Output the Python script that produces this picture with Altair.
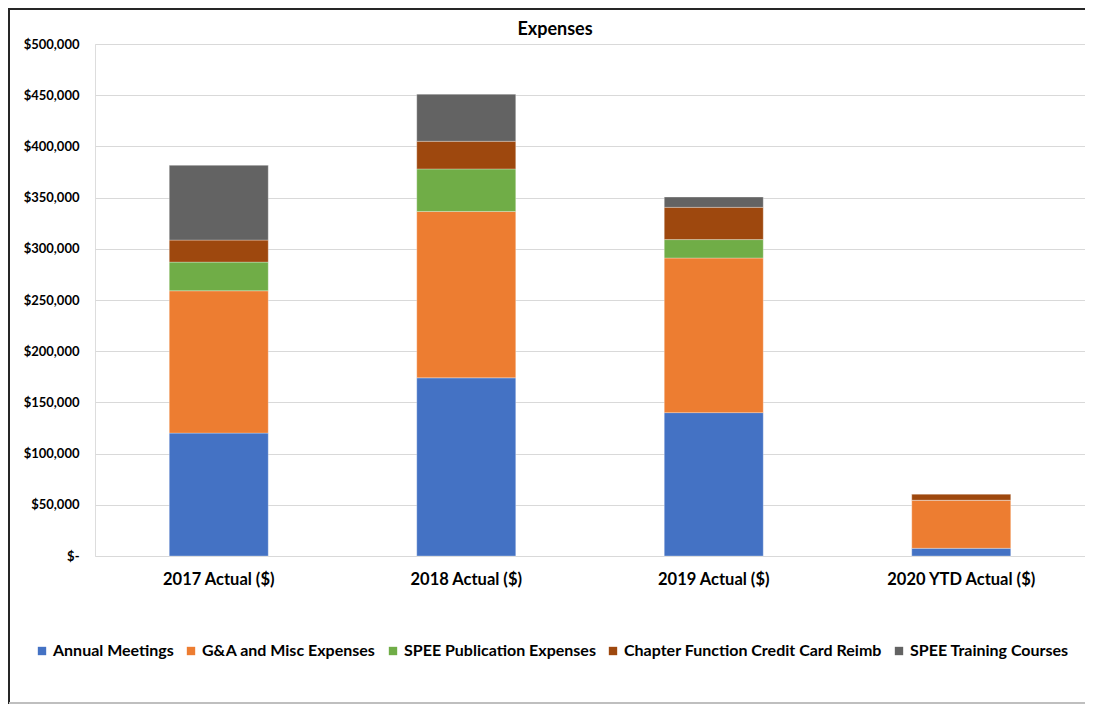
import altair as alt
import pandas as pd

years = ["2017 Actual ($)", "2018 Actual ($)", "2019 Actual ($)", "2020 YTD Actual ($)"]
series = ["Annual Meetings", "G&A and Misc Expenses", "SPEE Publication Expenses",
          "Chapter Function Credit Card Reimb", "SPEE Training Courses"]
colors = ["#4472C4", "#ED7D31", "#70AD47", "#9E480E", "#636363"]

annual_meetings = [120000, 174000, 140000, 7500]
ga_misc = [139000, 162500, 151000, 47000]
publication = [28000, 41500, 18000, 0]
chapter_reimb = [21500, 27000, 31500, 6000]
training = [73000, 46000, 10000, 0]

values = [annual_meetings, ga_misc, publication, chapter_reimb, training]
rows = []
for si, (s, vals) in enumerate(zip(series, values)):
    for y, v in zip(years, vals):
        rows.append({"Year": y, "Series": s, "Value": v, "Order": si})
df = pd.DataFrame(rows)

FONT = "Lato"

bars = alt.Chart(df).mark_bar(stroke="white", strokeWidth=0.5, strokeOpacity=0.6).encode(
    x=alt.X("Year:N", sort=years, title=None,
            scale=alt.Scale(paddingInner=0.6, paddingOuter=0.3),
            axis=alt.Axis(labelAngle=0, labelFontSize=16.5, labelFontWeight="bold",
                          labelColor="#000000", labelFont=FONT, labelPadding=15,
                          ticks=False, domain=False)),
    y=alt.Y("Value:Q", stack="zero", title=None,
            scale=alt.Scale(domain=[0, 500000], nice=False),
            axis=alt.Axis(values=list(range(0, 500001, 50000)),
                          labelExpr="datum.value == 0 ? '$-\u00a0\u00a0\u00a0' : '$' + format(datum.value, ',')",
                          labelFontSize=13, labelFontWeight="bold", labelColor="#000000",
                          labelFont=FONT, labelPadding=16, ticks=False, domain=False,
                          gridColor="#d9d9d9", gridWidth=1)),
    color=alt.Color("Series:N", sort=series,
                    scale=alt.Scale(domain=series, range=colors),
                    legend=alt.Legend(title=None, orient="none", direction="horizontal",
                                      legendX=-61, legendY=599,
                                      symbolType="square", symbolSize=70,
                                      symbolStrokeWidth=0, labelOffset=3,
                                      labelFontSize=16, labelFontWeight="bold",
                                      labelColor="#000000", labelFont=FONT,
                                      columnPadding=9, labelLimit=400)),
    order=alt.Order("Order:Q", sort="ascending"),
)

frame_left = alt.Chart(df).mark_rule(color="#262626", strokeWidth=2).encode(
    x=alt.value(-86), y=alt.value(-36), y2=alt.value(660))
frame_top = alt.Chart(df).mark_rule(color="#262626", strokeWidth=2).encode(
    x=alt.value(-86), x2=alt.value(1010), y=alt.value(-35))
frame_bottom = alt.Chart(df).mark_rule(color="#bfbfbf", strokeWidth=1.5).encode(
    x=alt.value(-86), x2=alt.value(1010), y=alt.value(659))

chart = alt.layer(bars, frame_left, frame_top, frame_bottom).properties(
    width=990, height=512,
    title=alt.TitleParams("Expenses", fontSize=18, fontWeight="bold", font=FONT,
                          color="#000000", anchor="middle", offset=-32, dx=-35,
                          frame="group"),
    autosize=alt.AutoSizeParams(type="none"),
    padding={"left": 87, "top": 36, "right": 0, "bottom": 149},
).configure_view(stroke=None).configure(background="white")

chart.save("out.html", embed_options={"renderer": "svg", "actions": False})
